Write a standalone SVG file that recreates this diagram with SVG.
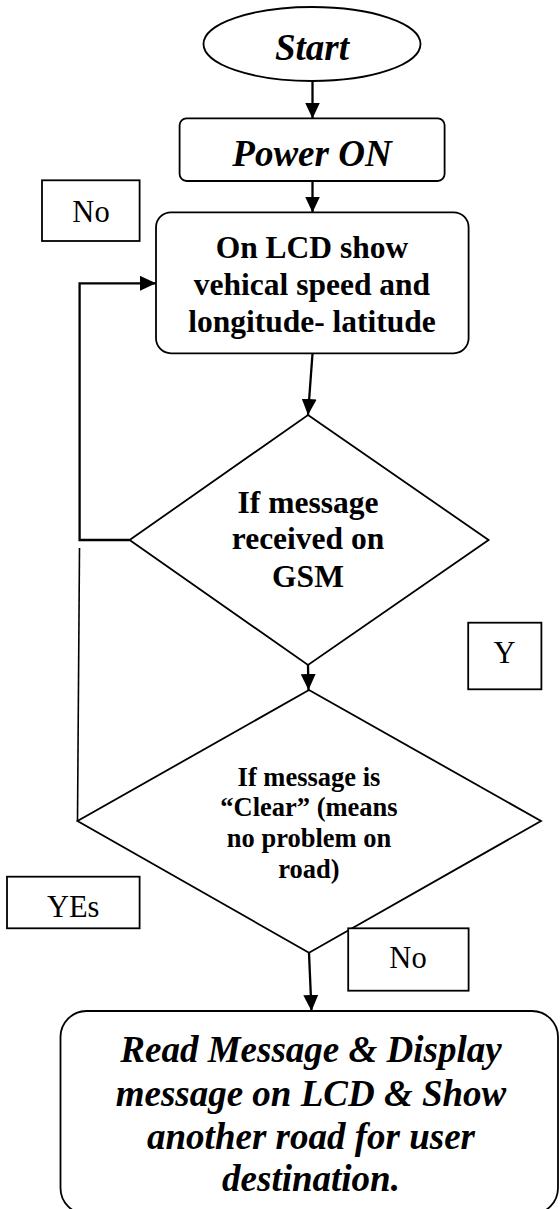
<svg xmlns="http://www.w3.org/2000/svg" width="560" height="1209" viewBox="0 0 560 1209">
  <style>
    .shape { fill: #fff; stroke: #000; stroke-width: 1.8; }
    .edge { fill: none; stroke: #000; stroke-width: 2.3; }
    .thin { fill: none; stroke: #000; stroke-width: 1.6; }
    text { font-family: "Liberation Serif", "Times New Roman", serif; fill: #000; text-anchor: middle; }
    .bi { font-weight: bold; font-style: italic; font-size: 37px; }
    .b { font-weight: bold; font-size: 31.5px; }
    .bs { font-weight: bold; font-size: 26.5px; }
    .lbl { font-size: 30.5px; }
  </style>
  <defs>
    <marker id="arrow" markerUnits="userSpaceOnUse" markerWidth="16" markerHeight="15" refX="16" refY="7.5" orient="auto">
      <path d="M0,0 L16,7.5 L0,15 Z" fill="#000"/>
    </marker>
  </defs>

  <g id="connectors">
    <line class="edge" x1="312.5" y1="81" x2="312.5" y2="118.5" marker-end="url(#arrow)"/>
    <line class="edge" x1="312.5" y1="181" x2="312.5" y2="212.5" marker-end="url(#arrow)"/>
    <line class="edge" x1="312.5" y1="353.5" x2="308" y2="415" marker-end="url(#arrow)"/>
    <line class="edge" x1="308" y1="665" x2="308.5" y2="690" marker-end="url(#arrow)"/>
    <line class="edge" x1="309" y1="953" x2="311.5" y2="1011" marker-end="url(#arrow)"/>
    <!-- "No" loop back to the LCD step -->
    <polyline class="edge" points="129.6,540 79.6,540 79.6,283.3 156,283.3" marker-end="url(#arrow)"/>
    <!-- "YEs" branch line from the second decision -->
    <line class="thin" x1="79.5" y1="548" x2="77.5" y2="821"/>
  </g>

  <g id="start">
    <ellipse class="shape" cx="312" cy="44" rx="108.5" ry="37"/>
    <text class="bi" x="312" y="60">Start</text>
  </g>

  <g id="power-on">
    <rect class="shape" x="179.6" y="118.3" width="265" height="62.7" rx="7"/>
    <text class="bi" x="312" y="165.7">Power ON</text>
  </g>

  <g id="label-no-1">
    <rect class="shape" x="42" y="180.3" width="97.6" height="60.7"/>
    <text class="lbl" x="91" y="221.7">No</text>
  </g>

  <g id="lcd-show">
    <rect class="shape" x="156" y="212.3" width="312.6" height="141" rx="15"/>
    <text class="b" x="312" y="258.3">On LCD show</text>
    <text class="b" x="312" y="295">vehical speed and</text>
    <text class="b" x="312" y="332.3">longitude- latitude</text>
  </g>

  <g id="decision-gsm">
    <polygon class="shape" points="308,415 488.6,540 308,665 129.6,540"/>
    <text class="b" x="308" y="512.7">If message</text>
    <text class="b" x="308" y="549">received on</text>
    <text class="b" x="308" y="586.7">GSM</text>
  </g>

  <g id="label-y">
    <rect class="shape" x="468.2" y="622.7" width="73.2" height="66.6"/>
    <text class="lbl" x="504.5" y="663.3">Y</text>
  </g>

  <g id="decision-clear">
    <polygon class="shape" points="309,690 541,821 309,952.7 77.5,821"/>
    <text class="bs" x="309" y="786">If message is</text>
    <text class="bs" x="309" y="816">“Clear” (means</text>
    <text class="bs" x="309" y="846.7">no problem on</text>
    <text class="bs" x="309" y="877.7">road)</text>
  </g>

  <g id="label-yes">
    <rect class="shape" x="7" y="876.7" width="132.6" height="51.6"/>
    <text class="lbl" x="73.2" y="917.3">YEs</text>
  </g>

  <g id="label-no-2">
    <rect class="shape" x="348.2" y="928.3" width="120.4" height="62.4"/>
    <text class="lbl" x="408" y="968">No</text>
  </g>

  <g id="read-message">
    <rect class="shape" x="60.5" y="1011" width="497.5" height="203" rx="26"/>
    <text class="bi" x="311" y="1061.7">Read Message &amp; Display</text>
    <text class="bi" x="311" y="1105.7">message on LCD &amp; Show</text>
    <text class="bi" x="311" y="1149.3">another road for user</text>
    <text class="bi" x="311" y="1190.7">destination.</text>
  </g>
</svg>
